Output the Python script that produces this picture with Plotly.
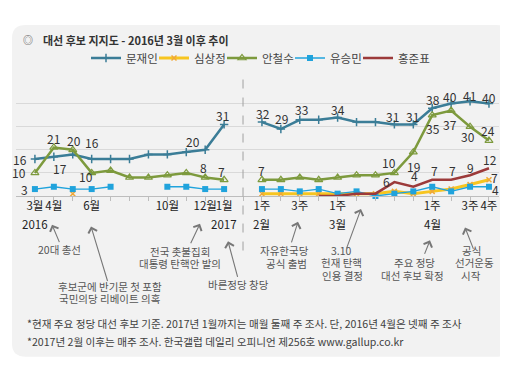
import plotly.graph_objects as go

# ---------------- data ----------------
months = ["3월", "4월", "5월", "6월", "7월", "8월", "9월", "10월", "11월", "12월", "1월"]
weeks = ["2월1주", "2월2주", "2월3주", "2월4주", "3월1주", "3월2주", "3월3주", "3월4주", "3월5주",
         "4월1주", "4월2주", "4월3주", "4월4주"]

moon_monthly = [16, 17, 18, 16, 16, 16, 18, 18, 19, 20, 31]
moon_weekly = [32, 29, 33, 33, 34, 32, 32, 31, 31, 38, 40, 41, 40]
sim_monthly = [None, None, 1, None, None, None, None, None, None, None, None]
sim_weekly = [1, 1, 1, 1, 1, 1, 1, 2, 1, 2, 3, 5, 7]
ahn_monthly = [10, 21, 20, 10, 11, 8, 8, 9, 10, 8, 7]
ahn_weekly = [7, 7, 8, 7, 8, 9, 9, 10, 19, 35, 37, 30, 24]
yoo_monthly = [3, 4, 3, 3, 4, None, None, 4, 4, 3, 3]
yoo_weekly = [3, 3, 2, 3, 1, 2, 0, 1, 2, 4, 2, 4, 4]
hong_monthly = [None] * 11
hong_weekly = [None, None, None, 0, 0, 1, 1, 6, 4, 7, 7, 9, 12]

tick_row1 = {0: "3월", 1: "4월", 3: "6월", 7: "10월", 9: "12월", 10: "1월",
             12: "1주", 14: "3주", 16: "1주", 21: "1주", 23: "3주", 24: "4주"}
tick_row2 = {0: "2016", 10: "2017", 12: "2월", 16: "3월", 21: "4월"}

names = ["문재인", "심상정", "안철수", "유승민", "홍준표"]

# ---------------- geometry ----------------
W, H = 508, 367
ML, MR, MT, MB = 8, 17, 63, 179
PW = W - ML - MR
PH = H - MT - MB
XR = [-1.0, 24.53]
YR = [0, 50]
GAP = len(months)  # empty slot between monthly and weekly


def px(xp):
    return (xp - ML) / PW


def py(yp):
    return (H - MB - yp) / PH


def combine(a, b):
    return list(a) + [None] + list(b)


xs = list(range(len(months) + 1 + len(weeks)))
series = {
    "moon": combine(moon_monthly, moon_weekly),
    "sim": combine(sim_monthly, sim_weekly),
    "ahn": combine(ahn_monthly, ahn_weekly),
    "yoo": combine(yoo_monthly, yoo_weekly),
    "hong": combine(hong_monthly, hong_weekly),
}

FONT = "Noto Sans CJK KR"
fig = go.Figure()

styles = [
    ("moon", names[0], dict(color="#3b7d97", width=2.5),
     dict(symbol="cross-thin", size=6, line=dict(width=1.5, color="#3b7d97"))),
    ("sim", names[1], dict(color="#f7c520", width=3),
     dict(symbol="x-thin", size=5, line=dict(width=1.5, color="#f0a838"))),
    ("ahn", names[2], dict(color="#7d9a3d", width=2.5),
     dict(symbol="triangle-up-open", size=7, line=dict(width=1.2, color="#7d9a3d"))),
    ("yoo", names[3], dict(color="#20a3dc", width=1.3),
     dict(symbol="square", size=6, color="#20a3dc")),
    ("hong", names[4], dict(color="#9c3a3a", width=2.5), None),
]
for key, name, line, marker in styles:
    fig.add_trace(go.Scatter(
        x=xs, y=series[key], name=name,
        mode="lines+markers" if marker else "lines",
        line=line, marker=marker, connectgaps=False, cliponaxis=False,
        hoverinfo="skip"))

# empty legend entry so the last real entry's text is not clipped
fig.add_trace(go.Scatter(x=[None], y=[None], name=" ", mode="lines",
                         line=dict(width=0, color="rgba(0,0,0,0)"), hoverinfo="skip"))

annotations = []

# data labels: (series, index, xshift, yshift)
label_specs = [
    ("moon", 0, -15, 0), ("moon", 1, 6, -12), ("moon", 3, 0, 17), ("moon", 9, -12, 8),
    ("moon", 10, -2, 9), ("moon", 12, 1, 9), ("moon", 13, 1, 11), ("moon", 14, 2, 10),
    ("moon", 16, 0, 8), ("moon", 19, -2, 8), ("moon", 20, -1, 8), ("moon", 21, 1, 9),
    ("moon", 22, -1, 7), ("moon", 23, -1, 6), ("moon", 24, 0, 6),
    ("ahn", 0, -16, 0), ("ahn", 1, 0, 9), ("ahn", 2, 1, 9), ("ahn", 3, -6, -4),
    ("ahn", 9, -2, 10), ("ahn", 10, -3, 8), ("ahn", 12, 0, 9), ("ahn", 19, -5, 10),
    ("ahn", 20, 0, -14), ("ahn", 21, 1, -13), ("ahn", 22, -1, -14), ("ahn", 23, -2, -10),
    ("ahn", 24, -1, 10),
    ("yoo", 0, -10, 0), ("yoo", 24, 7, -3),
    ("sim", 24, 6, 2),
    ("hong", 19, -8, 1), ("hong", 20, 1, 11), ("hong", 21, 2, 9), ("hong", 22, 1, 9),
    ("hong", 23, 0, 8), ("hong", 24, 1, 9),
]
for key, i, dx, dy in label_specs:
    v = series[key][i]
    annotations.append(dict(x=xs[i], y=v, xref="x", yref="y", text=str(v), showarrow=False,
                            xshift=dx, yshift=dy, font=dict(family=FONT, size=12, color="#333")))

# second row of x tick labels
for i, t in tick_row2.items():
    annotations.append(dict(x=xs[i], y=py(218), xref="x", yref="paper", text=t, showarrow=False,
                            font=dict(family=FONT, size=11.5, color="#222"),
                            xanchor="center", yanchor="middle"))

# event arrows: (tail px, head px)
arrows = [
    ((52, 238), (44, 219)),
    ((100, 277), (83, 221)),
    ((182, 239), (192, 218)),
    ((230, 274), (220, 237)),
    ((283, 238), (290, 216)),
    ((338, 243), (353, 202)),
    ((416, 251), (422, 236)),
    ((466, 245), (457, 222)),
]
for (tx, ty), (hx, hy) in arrows:
    annotations.append(dict(x=px(hx), y=py(hy), xref="paper", yref="paper", text="",
                            showarrow=True, ax=tx - hx, ay=ty - hy, arrowhead=4, arrowsize=1.6,
                            arrowwidth=1.1, arrowcolor="#777", standoff=0, startstandoff=0))

event_texts = [
    ("20대 총선", 51, 246),
    ("후보군에 반기문 첫 포함", 102, 286), ("국민의당 리베이트 의혹", 102, 299),
    ("전국 촛불집회", 172, 248), ("대통령 탄핵안 발의", 172, 261),
    ("바른정당 창당", 230, 284),
    ("자유한국당", 276, 247), ("공식 출범", 278, 261),
    ("3.10", 333, 247), ("헌재 탄핵", 333, 260), ("인용 결정", 334, 274),
    ("주요 정당", 406, 260), ("대선 후보 확정", 404, 274),
    ("공식", 463, 247), ("선거운동", 466, 260), ("시작", 463, 274),
]
for t, cx, cy in event_texts:
    annotations.append(dict(x=px(cx), y=py(cy), xref="paper", yref="paper", text=t,
                            showarrow=False, xanchor="center", yanchor="middle",
                            font=dict(family=FONT, size=10.5, color="#555")))

# title
annotations.append(dict(x=px(20), y=py(19), xref="paper", yref="paper", text="◎", showarrow=False,
                        xanchor="center", yanchor="middle",
                        font=dict(family=FONT, size=10, color="#555")))
annotations.append(dict(x=px(33), y=py(19), xref="paper", yref="paper",
                        text="<b>대선 후보 지지도 - 2016년 3월 이후 추이</b>", showarrow=False,
                        xanchor="left", yanchor="middle",
                        font=dict(family=FONT, size=11, color="#333")))

# footnotes
foot = ["*현재 주요 정당 대선 후보 기준. 2017년 1월까지는 매월 둘째 주 조사. 단, 2016년 4월은 넷째 주 조사",
        "*2017년 2월 이후는 매주 조사. 한국갤럽 데일리 오피니언 제256호 www.gallup.co.kr"]
for t, cy in zip(foot, [326, 345]):
    annotations.append(dict(x=px(17), y=py(cy), xref="paper", yref="paper", text=t,
                            showarrow=False, xanchor="left", yanchor="middle",
                            font=dict(family=FONT, size=10.6, color="#404040")))

# rounded background panel
x0, y0, x1, y1, r = 4, 3, 502, 362, 14
rx, ry = r / PW, r / PH
X0, X1, Y0, Y1 = px(x0), px(x1), py(y0), py(y1)
panel = (f"M {X0 + rx},{Y0} L {X1 - rx},{Y0} Q {X1},{Y0} {X1},{Y0 - ry} "
         f"L {X1},{Y1 + ry} Q {X1},{Y1} {X1 - rx},{Y1} L {X0 + rx},{Y1} "
         f"Q {X0},{Y1} {X0},{Y1 + ry} L {X0},{Y0 - ry} Q {X0},{Y0} {X0 + rx},{Y0} Z")

shapes = [
    dict(type="path", path=panel, xref="paper", yref="paper", fillcolor="#f2f2f2",
         line=dict(width=0), layer="below"),
    dict(type="line", x0=GAP, x1=GAP, xref="x", y0=py(247), y1=py(58), yref="paper",
         line=dict(color="#a0a0a0", width=1, dash="dash"), layer="above"),
]

fig.update_layout(
    width=W, height=H,
    margin=dict(l=ML, r=MR, t=MT, b=MB, pad=0),
    paper_bgcolor="white", plot_bgcolor="rgba(0,0,0,0)",
    font=dict(family=FONT, color="#333"),
    showlegend=True,
    legend=dict(orientation="h", xref="container", yref="container",
                x=78 / W, y=1 - 50 / H, xanchor="left", yanchor="middle",
                entrywidth=23, entrywidthmode="pixels",
                font=dict(family=FONT, size=11.5, color="#444"),
                bgcolor="rgba(0,0,0,0)", itemclick=False),
    xaxis=dict(range=XR, tickmode="array", tickvals=xs,
               ticktext=[tick_row1.get(i, "") for i in xs], tickangle=0,
               ticks="outside", ticklen=4, tickcolor="#bdbdbd", tickwidth=1,
               ticklabelstandoff=-5,
               showline=True, linecolor="#bdbdbd", linewidth=1,
               showgrid=False, zeroline=False,
               tickfont=dict(family=FONT, size=11.5, color="#222")),
    yaxis=dict(range=YR, tickvals=[10, 20, 30, 40, 50], showticklabels=False,
               showgrid=True, gridcolor="#d9d9d9", gridwidth=1, zeroline=False,
               showline=False, ticks=""),
    annotations=annotations,
    shapes=shapes,
)

fig.write_html("out.html")
